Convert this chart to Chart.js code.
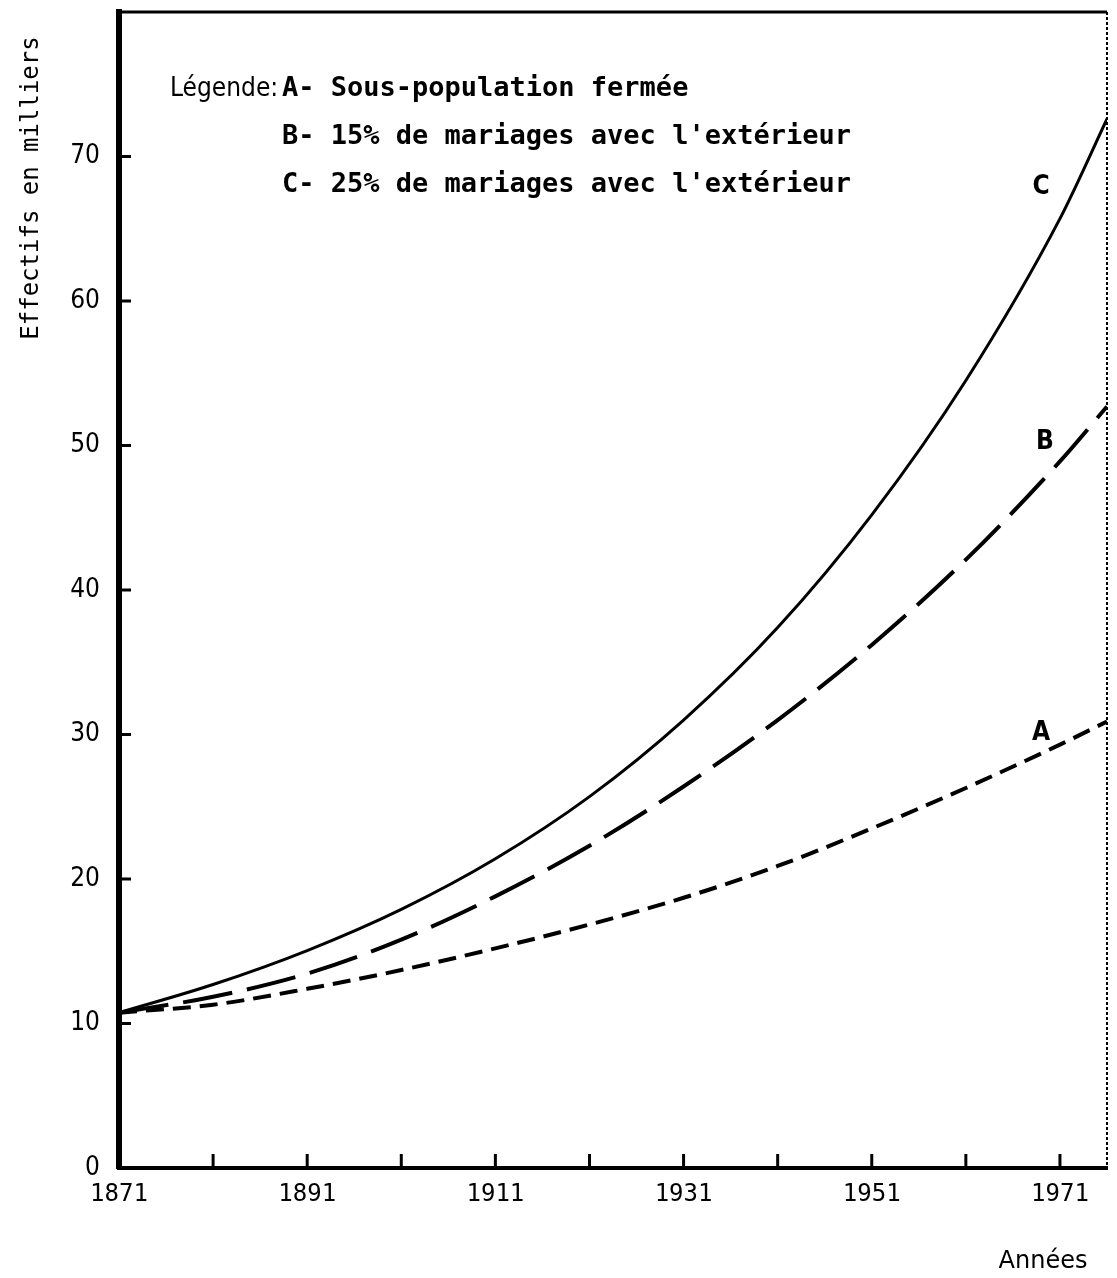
<!DOCTYPE html>
<html>
<head>
<meta charset="utf-8">
<script src="https://cdn.jsdelivr.net/npm/chart.js@4.4.1/dist/chart.umd.min.js"></script>
<style>
    html, body { margin: 0; padding: 0; background: #fff; }
    #wrap { width: 1117px; height: 1278px; position: relative; }
</style>
</head>
<body>
<div id="wrap"><canvas id="effectifs"></canvas></div>
<script>
// Years and population (thousands)
const years = [1871, 1881, 1891, 1901, 1911, 1921, 1931, 1941, 1951, 1961, 1971, 1976];
const serieA = [10.75, 11.3, 12.4, 13.7, 15.2, 16.85, 18.7, 20.9, 23.5, 26.3, 29.3, 30.9];
const serieB = [10.75, 11.85, 13.45, 15.8, 18.8, 22.3, 26.4, 31.0, 36.2, 42.1, 48.9, 52.7];
const serieC = [10.75, 12.7, 15.05, 17.9, 21.4, 25.7, 31.0, 37.4, 45.2, 54.5, 65.7, 72.6];

const xTicks = [1871, 1881, 1891, 1901, 1911, 1921, 1931, 1941, 1951, 1961, 1971];
const xLabelled = [1871, 1891, 1911, 1931, 1951, 1971];
const yTicks = [0, 10, 20, 30, 40, 50, 60, 70];

const curveNames = ['A', 'B', 'C'];
const curveNameYears = [1969, 1969.4, 1969];
const curveNameValues = [30.1, 50.2, 67.9];

const legendLines = [
    'A- Sous-population fermée',
    'B- 15% de mariages avec l\'extérieur',
    'C- 25% de mariages avec l\'extérieur'
];

function toPoints(values) {
    return values.map((v, i) => ({ x: years[i], y: v }));
}

// Frame, inward ticks, curve letters, axis titles and legend text
const decorPlugin = {
    id: 'decor',
    afterDraw(chart) {
        const ctx = chart.ctx;
        const area = chart.chartArea;
        const xs = chart.scales.x;
        const ys = chart.scales.y;
        ctx.save();
        ctx.strokeStyle = '#000';
        ctx.lineCap = 'butt';

        // top border
        ctx.lineWidth = 3;
        ctx.beginPath();
        ctx.moveTo(area.left, area.top);
        ctx.lineTo(area.right, area.top);
        ctx.stroke();

        // right border (rough dotted line)
        ctx.lineWidth = 2;
        ctx.setLineDash([3, 2]);
        ctx.beginPath();
        ctx.moveTo(area.right, area.top);
        ctx.lineTo(area.right, area.bottom);
        ctx.stroke();
        ctx.setLineDash([]);

        // x ticks pointing up
        ctx.lineWidth = 3;
        xTicks.forEach(t => {
            const px = xs.getPixelForValue(t);
            ctx.beginPath();
            ctx.moveTo(px, area.bottom);
            ctx.lineTo(px, area.bottom - 14);
            ctx.stroke();
        });
        // y ticks pointing right
        yTicks.forEach(t => {
            if (t === 0) return;
            const py = ys.getPixelForValue(t);
            ctx.beginPath();
            ctx.moveTo(area.left, py);
            ctx.lineTo(area.left + 12, py);
            ctx.stroke();
        });

        // curve letters
        ctx.fillStyle = '#000';
        ctx.textAlign = 'center';
        ctx.textBaseline = 'middle';
        ctx.font = 'bold 26px "DejaVu Sans Condensed"';
        curveNames.forEach((n, i) => {
            ctx.fillText(n, xs.getPixelForValue(curveNameYears[i]), ys.getPixelForValue(curveNameValues[i]));
        });

        // axis title for years, set a bit inside the right edge
        ctx.font = '24px "DejaVu Sans"';
        ctx.fillText('Années', area.right - 64, chart.height - 16);

        // vertical axis title near the top
        ctx.save();
        ctx.translate(32, 188);
        ctx.rotate(-Math.PI / 2);
        ctx.font = '24px "DejaVu Sans Mono"';
        ctx.fillText('Effectifs en milliers', 0, 0);
        ctx.restore();

        // legend block
        ctx.textAlign = 'left';
        ctx.font = '26px "DejaVu Sans Condensed"';
        ctx.fillText('Légende:', 170, 89);
        ctx.font = 'bold 27px "DejaVu Sans Mono"';
        legendLines.forEach((line, i) => {
            ctx.fillText(line, 282, 89 + i * 48);
        });
        ctx.restore();
    }
};

document.addEventListener('DOMContentLoaded', function() {
    const ctx = document.getElementById('effectifs');

    const lineStyle = {
        borderColor: '#000',
        backgroundColor: '#000',
        pointRadius: 0,
        fill: false,
        cubicInterpolationMode: 'monotone'
    };

    new Chart(ctx, {
        type: 'line',
        data: {
            datasets: [
                Object.assign({ label: 'A', data: toPoints(serieA), borderWidth: 4, borderDash: [18, 9] }, lineStyle),
                Object.assign({ label: 'B', data: toPoints(serieB), borderWidth: 4, borderDash: [50, 15] }, lineStyle),
                Object.assign({ label: 'C', data: toPoints(serieC), borderWidth: 3 }, lineStyle)
            ]
        },
        options: {
            responsive: true,
            maintainAspectRatio: false,
            animation: false,
            layout: { padding: { top: 12, right: 10, left: 0, bottom: 0 } },
            plugins: {
                legend: { display: false },
                tooltip: { enabled: false }
            },
            scales: {
                x: {
                    type: 'linear',
                    min: 1871,
                    max: 1976,
                    afterBuildTicks: scale => {
                        scale.ticks = xTicks.map(v => ({ value: v }));
                    },
                    afterFit: scale => { scale.height = 110; },
                    grid: { display: false, drawTicks: false },
                    border: { display: true, color: '#000', width: 4 },
                    ticks: {
                        autoSkip: false,
                        maxRotation: 0,
                        padding: 12,
                        color: '#000',
                        font: { family: 'DejaVu Sans Mono', size: 24 },
                        callback: v => xLabelled.includes(v) ? String(v) : ''
                    },
                    title: { display: false }
                },
                y: {
                    min: 0,
                    max: 80,
                    afterBuildTicks: scale => {
                        scale.ticks = yTicks.map(v => ({ value: v }));
                    },
                    afterFit: scale => {
                        scale.width = 119;
                        scale.paddingTop = 0;
                        scale.paddingBottom = 0;
                    },
                    grid: { display: false, drawTicks: false },
                    border: { display: true, color: '#000', width: 6 },
                    ticks: {
                        padding: 19,
                        color: '#000',
                        font: { family: 'DejaVu Sans Condensed', size: 26 }
                    },
                    title: { display: false }
                }
            }
        },
        plugins: [decorPlugin]
    });
});
</script>
</body>
</html>
